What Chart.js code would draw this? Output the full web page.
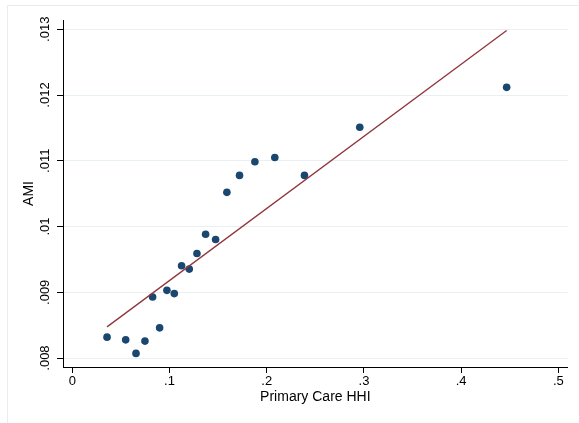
<!DOCTYPE html>
<html>
<head>
<meta charset="utf-8">
<title>AMI vs Primary Care HHI</title>
<script src="https://cdn.jsdelivr.net/npm/chart.js@4.4.1/dist/chart.umd.min.js"></script>
<style>
  body { margin: 0; background: #fff; overflow: hidden; }
  #frame {
    position: absolute; left: 7px; top: 5px; width: 620px; height: 480px;
    border: 1px solid #e6eef0;
  }
  #wrap { position: absolute; left: 0; top: 0; width: 579px; height: 423px; }
</style>
</head>
<body>
<div id="frame"></div>
<div id="wrap"><canvas id="amiChart" width="579" height="423"></canvas></div>
<script>
// binned scatter: primary care HHI against AMI
const hhi = [0.0357, 0.0549, 0.0655, 0.0747, 0.0826, 0.0898, 0.0973, 0.1049, 0.1124, 0.1203,
             0.1282, 0.1371, 0.1474, 0.1590, 0.1720, 0.1878, 0.2083, 0.2388, 0.2957, 0.4468];
const ami = [0.008318, 0.008277, 0.008071, 0.008258, 0.008929, 0.008459, 0.009030, 0.008980, 0.009404, 0.009353,
             0.009591, 0.009883, 0.009803, 0.010520, 0.010778, 0.010985, 0.011050, 0.010778, 0.011511, 0.012117];

// linear fit, end points
const fitX = [0.0357, 0.4468];
const fitY = [0.008474, 0.012980];

const xTicks = [0, 0.1, 0.2, 0.3, 0.4, 0.5];
const yTicks = [0.008, 0.009, 0.010, 0.011, 0.012, 0.013];

// stata style labels: .1, .013 etc
const stataFmt = v => String(v).replace(/^0\./, ".");

const FONT = "'Liberation Sans', Arial, Helvetica, sans-serif";

const points = hhi.map((x, i) => ({ x: x, y: ami[i] }));
const fitLine = fitX.map((x, i) => ({ x: x, y: fitY[i] }));

new Chart(document.getElementById("amiChart"), {
    type: "scatter",
    data: {
        datasets: [
            {
                label: "AMI",
                data: points,
                backgroundColor: "#1a476f",
                borderWidth: 0,
                pointRadius: 3.8,
                order: 1
            },
            {
                type: "line",
                label: "Fitted values",
                data: fitLine,
                borderColor: "#90353b",
                borderWidth: 1.3,
                pointRadius: 0,
                fill: false,
                order: 0
            }
        ]
    },
    options: {
        responsive: false,
        animation: false,
        layout: { padding: { top: 20, right: 11.3, left: 0, bottom: 0 } },
        plugins: {
            legend: { display: false },
            tooltip: { enabled: false }
        },
        scales: {
            x: {
                type: "linear",
                min: -0.0096,
                max: 0.5096,
                afterBuildTicks: scale => { scale.ticks = xTicks.map(v => ({ value: v })); },
                afterFit: scale => { scale.height = 56; },
                grid: { drawOnChartArea: false, tickLength: 6, tickColor: "#000", tickWidth: 1 },
                border: { color: "#000", width: 1 },
                ticks: {
                    callback: stataFmt,
                    color: "#000",
                    font: { family: FONT, size: 13 },
                    padding: 1,
                    maxRotation: 0
                },
                title: {
                    display: true,
                    text: "Primary Care HHI",
                    color: "#000",
                    font: { family: FONT, size: 14 },
                    padding: { top: 0, bottom: 17.6 }
                }
            },
            y: {
                type: "linear",
                min: 0.007864,
                max: 0.013141,
                afterBuildTicks: scale => { scale.ticks = yTicks.map(v => ({ value: v })); },
                afterFit: scale => { scale.width = 63; },
                grid: { color: "#e9f0f2", lineWidth: 1, tickLength: 6, tickColor: "#000", tickWidth: 1 },
                border: { color: "#000", width: 1 },
                ticks: {
                    callback: stataFmt,
                    color: "#000",
                    font: { family: FONT, size: 13 },
                    minRotation: 90,
                    maxRotation: 90,
                    crossAlign: "center",
                    padding: -1
                },
                title: {
                    display: true,
                    text: "AMI",
                    color: "#000",
                    font: { family: FONT, size: 14 },
                    padding: { top: 20.6, bottom: 0 }
                }
            }
        }
    }
});
</script>
</body>
</html>
